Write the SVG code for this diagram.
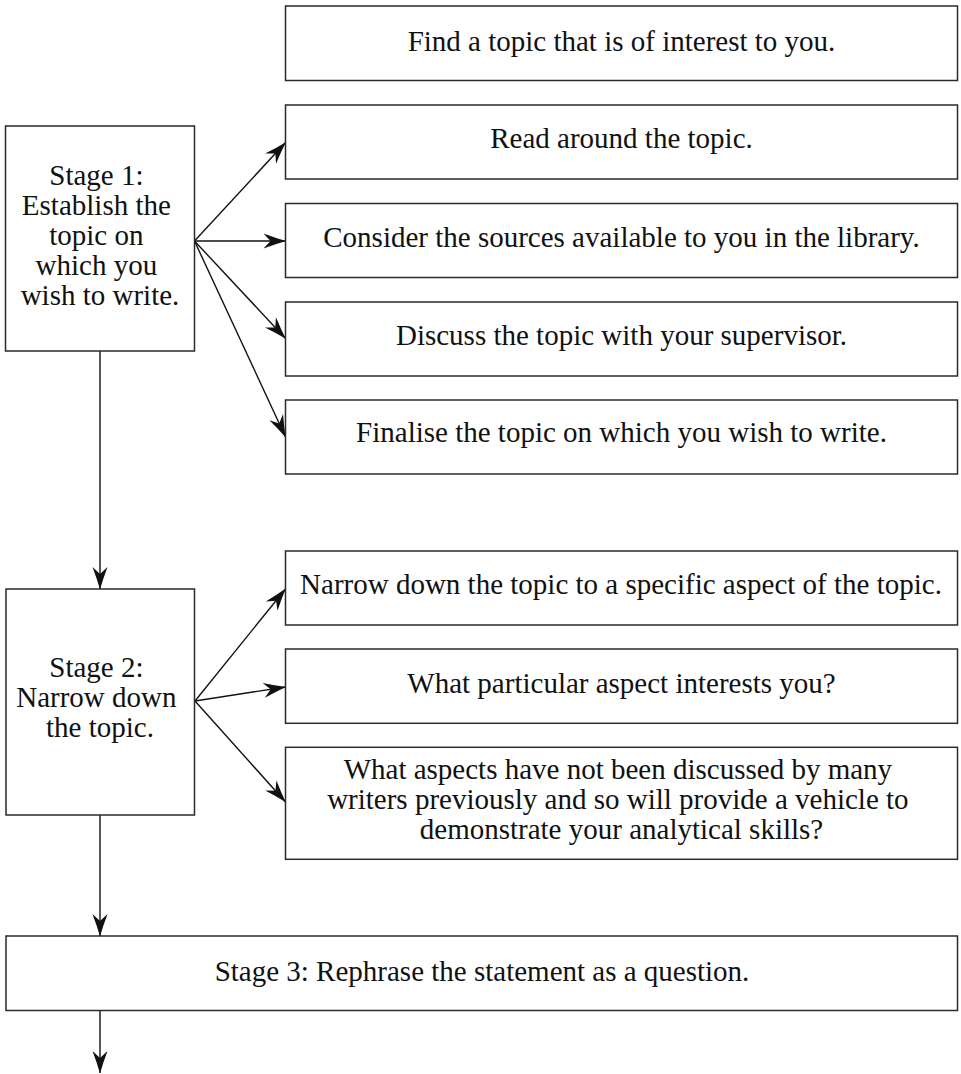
<svg xmlns="http://www.w3.org/2000/svg" width="961" height="1074" viewBox="0 0 961 1074">
  <style>
    .box { fill: #ffffff; stroke: #2a2a2a; stroke-width: 1.5; }
    .lbl { font-family: "Liberation Serif", "Times New Roman", serif; font-size: 29px; fill: #111111; text-anchor: middle; }
    .edge { stroke: #111111; stroke-width: 1.4; fill: none; marker-end: url(#head); }
  </style>
  <defs>
    <!-- swept, notched arrowhead -->
    <marker id="head" markerUnits="userSpaceOnUse" orient="auto" viewBox="-24 -9 25 18" refX="0" refY="0" markerWidth="25" markerHeight="18" overflow="visible">
      <path d="M0.5,0 Q-10,-3 -22,-7.5 L-15,0 L-22,7.5 Q-10,3 0.5,0 Z" fill="#111111"/>
    </marker>
  </defs>

  <rect width="961" height="1074" fill="#ffffff"/>

  <!-- connectors -->
  <g id="connectors">
    <line class="edge" x1="194.5" y1="241" x2="285.5" y2="142.5"/>
    <line class="edge" x1="194.5" y1="241" x2="285.5" y2="241"/>
    <line class="edge" x1="194.5" y1="241" x2="285.5" y2="338.5"/>
    <line class="edge" x1="194.5" y1="241" x2="285.5" y2="437"/>
    <line class="edge" x1="100" y1="351" x2="100" y2="589"/>
    <line class="edge" x1="195" y1="701" x2="285.5" y2="589"/>
    <line class="edge" x1="195" y1="701" x2="285.5" y2="687"/>
    <line class="edge" x1="195" y1="701" x2="285.5" y2="802"/>
    <line class="edge" x1="100" y1="815" x2="100" y2="936"/>
    <line class="edge" x1="100" y1="1010.5" x2="100" y2="1073"/>
  </g>

  <!-- stage 1 -->
  <g id="stage1">
    <rect class="box" x="5.5" y="126" width="189" height="225"/>
    <text class="lbl">
      <tspan x="100" y="184.5">Stage 1:</tspan>
      <tspan x="100" y="214.5">Establish the</tspan>
      <tspan x="100" y="244.5">topic on</tspan>
      <tspan x="100" y="274.5">which you</tspan>
      <tspan x="100" y="304.5">wish to write.</tspan>
    </text>
  </g>

  <g id="find-topic">
    <rect class="box" x="285.5" y="6" width="672" height="74.5"/>
    <text class="lbl" x="621.5" y="51">Find a topic that is of interest to you.</text>
  </g>
  <g id="read-around">
    <rect class="box" x="285.5" y="105" width="672" height="74"/>
    <text class="lbl" x="621.5" y="148.3">Read around the topic.</text>
  </g>
  <g id="consider-sources">
    <rect class="box" x="285.5" y="203.5" width="672" height="74"/>
    <text class="lbl" x="621.5" y="247.3">Consider the sources available to you in the library.</text>
  </g>
  <g id="discuss-topic">
    <rect class="box" x="285.5" y="302" width="672" height="74"/>
    <text class="lbl" x="621.5" y="345.3">Discuss the topic with your supervisor.</text>
  </g>
  <g id="finalise-topic">
    <rect class="box" x="285.5" y="400" width="672" height="74"/>
    <text class="lbl" x="621.5" y="442.3">Finalise the topic on which you wish to write.</text>
  </g>

  <!-- stage 2 -->
  <g id="stage2">
    <rect class="box" x="6" y="589" width="188.5" height="226"/>
    <text class="lbl">
      <tspan x="100" y="677.3">Stage 2:</tspan>
      <tspan x="100" y="707.3">Narrow down</tspan>
      <tspan x="100" y="736.7">the topic.</tspan>
    </text>
  </g>

  <g id="narrow-aspect">
    <rect class="box" x="285.5" y="551" width="672" height="74"/>
    <text class="lbl" x="621" y="594">Narrow down the topic to a specific aspect of the topic.</text>
  </g>
  <g id="particular-aspect">
    <rect class="box" x="285.5" y="649" width="672" height="74.3"/>
    <text class="lbl" x="621.5" y="693.3">What particular aspect interests you?</text>
  </g>
  <g id="undiscussed-aspects">
    <rect class="box" x="285.5" y="747.3" width="672" height="112"/>
    <text class="lbl">
      <tspan x="621.5" y="779.3">What aspects have not been discussed by many</tspan>
      <tspan x="621.5" y="809.3">writers previously and so will provide a vehicle to</tspan>
      <tspan x="621.5" y="838.5">demonstrate your analytical skills?</tspan>
    </text>
  </g>

  <!-- stage 3 -->
  <g id="stage3">
    <rect class="box" x="6" y="936" width="951.5" height="74.5"/>
    <text class="lbl" x="482" y="981">Stage 3: Rephrase the statement as a question.</text>
  </g>
</svg>
